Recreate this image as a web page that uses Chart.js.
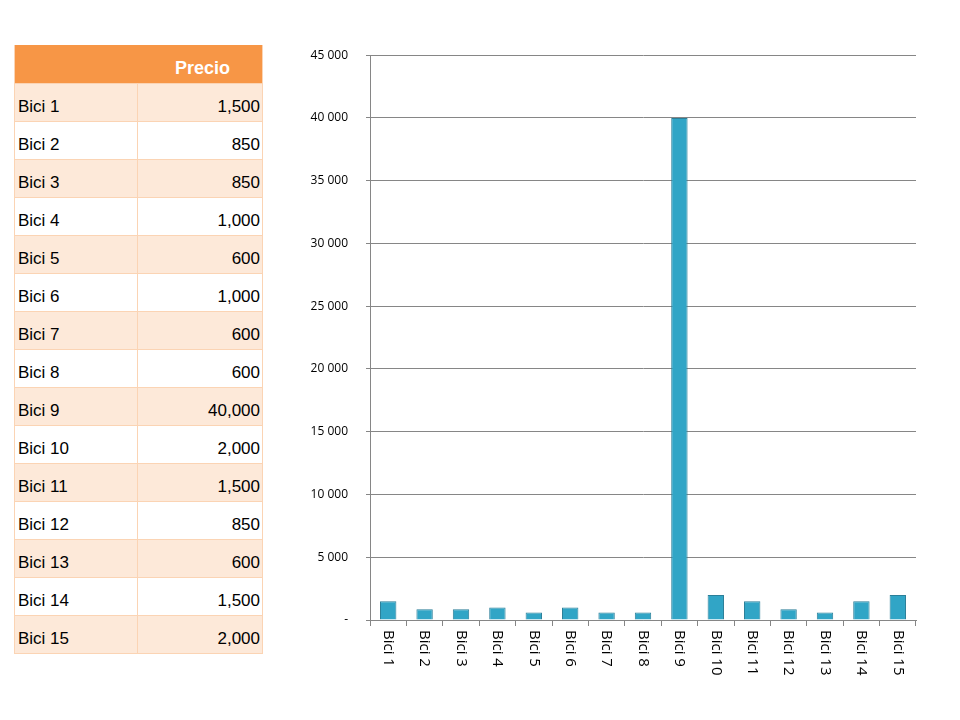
<!DOCTYPE html>
<html>
<head>
<meta charset="utf-8">
<script src="https://cdn.jsdelivr.net/npm/chart.js@4"></script>
<style>
    body { margin: 0; width: 960px; height: 720px; background: #fff; font-family: "Liberation Sans", Arial, sans-serif; }
    #tabla { position: absolute; left: 14px; top: 45px; width: 249px; border-collapse: collapse; font-size: 17px; }
    #tabla td, #tabla th { height: 38px; padding: 0 2px 0 3px; border-bottom: 1px solid #fbd4b4; border-left: 1px solid #fbd4b4; border-right: 1px solid #fbd4b4; vertical-align: bottom; padding-bottom: 4px; box-sizing: border-box; }
    #tabla th { background: #f79646; color: #fff; font-size: 18px; text-align: right; padding-right: 32px; }
    #tabla tr:nth-child(even) td { background: #fde9d9; }
    #tabla td.valor { text-align: right; }
    #lienzo { position: absolute; left: 290px; top: 30px; width: 635px; height: 670px; }
</style>
</head>
<body>
<table id="tabla"></table>
<div id="lienzo"><canvas id="grafico"></canvas></div>
<script>
const categorias = ['Bici 1', 'Bici 2', 'Bici 3', 'Bici 4', 'Bici 5', 'Bici 6', 'Bici 7', 'Bici 8', 'Bici 9', 'Bici 10', 'Bici 11', 'Bici 12', 'Bici 13', 'Bici 14', 'Bici 15'];
const precios = [1500, 850, 850, 1000, 600, 1000, 600, 600, 40000, 2000, 1500, 850, 600, 1500, 2000];
const ticksY = [0, 5000, 10000, 15000, 20000, 25000, 30000, 35000, 40000, 45000];

const tabla = document.getElementById('tabla');
tabla.innerHTML = '<tr><th colspan="2">Precio</th></tr>' + categorias.map((cat, i) =>
    `<tr><td>${cat}</td><td class="valor">${precios[i].toLocaleString('en-US')}</td></tr>`).join('');

function formatoMiles(v) {
    if (v === 0) return '-';
    return String(v).replace(/\B(?=(\d{3})+(?!\d))/g, ' ');
}

const etiquetasVerticales = {
    id: 'etiquetasVerticales',
    afterDraw(chart) {
        const ctx = chart.ctx;
        const escala = chart.scales.x;
        ctx.save();
        ctx.font = '15px "Open Sans", sans-serif';
        ctx.fillStyle = '#000';
        ctx.textAlign = 'left';
        ctx.textBaseline = 'middle';
        categorias.forEach((cat, i) => {
            ctx.save();
            ctx.translate(escala.getPixelForTick(i), escala.top + 10);
            ctx.rotate(Math.PI / 2);
            ctx.fillText(cat, 0, 0);
            ctx.restore();
        });
        ctx.restore();
    }
};

new Chart(document.getElementById('grafico'), {
    type: 'bar',
    data: {
        labels: categorias,
        datasets: [{
            data: precios,
            backgroundColor: (c) => {
                const area = c.chart.chartArea;
                const el = c.element;
                if (!area || !el || el.width === undefined) return '#31a5c6';
                const g = c.chart.ctx.createLinearGradient(el.x - el.width / 2, 0, el.x + el.width / 2, 0);
                g.addColorStop(0, '#2a8cab');
                g.addColorStop(0.5, '#4cc4e2');
                g.addColorStop(1, '#237e9b');
                return g;
            },
            borderColor: '#2b7f99',
            borderWidth: 1,
            categoryPercentage: 1,
            barPercentage: 0.45
        }]
    },
    options: {
        responsive: true,
        maintainAspectRatio: false,
        animation: false,
        layout: { padding: { top: 18, right: 9 } },
        plugins: { legend: { display: false }, tooltip: { enabled: false } },
        scales: {
            x: {
                afterFit: (s) => { s.height = 80; },
                ticks: { display: false },
                border: { color: '#868686' },
                grid: { drawOnChartArea: false, offset: true, tickLength: 6, color: '#868686' }
            },
            y: {
                min: 0,
                max: 45000,
                afterFit: (s) => { s.width = 80; },
                afterBuildTicks: (s) => { s.ticks = ticksY.map(v => ({ value: v })); },
                border: { color: '#868686' },
                grid: { color: '#868686', tickLength: 4 },
                ticks: {
                    color: '#000',
                    font: { size: 12, family: '"Open Sans", sans-serif' },
                    padding: 18,
                    callback: (v) => formatoMiles(v)
                }
            }
        }
    },
    plugins: [etiquetasVerticales]
});
</script>
</body>
</html>
